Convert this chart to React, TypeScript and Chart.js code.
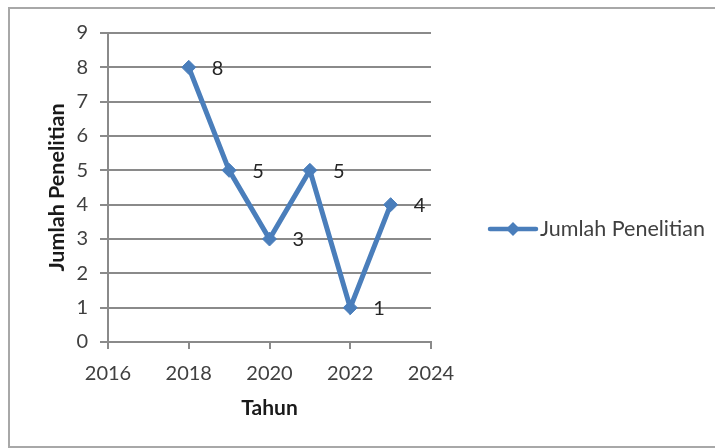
import React, { useEffect, useRef } from "react";
import { Chart, registerables } from "chart.js";

Chart.register(...registerables);

const seriesName = "Jumlah Penelitian";
const years = [2018, 2019, 2020, 2021, 2022, 2023];
const counts = [8, 5, 3, 5, 1, 4];
const xTickValues = [2016, 2018, 2020, 2022, 2024];
const yTickValues = [0, 1, 2, 3, 4, 5, 6, 7, 8, 9];
const xTitle = "Tahun";
const yTitle = "Jumlah Penelitian";

const LINE = "#4a7ebb";
const GRID = "#8a8a8a";
const TEXT = "#404040";
const FONT = "Lato, 'Open Sans', sans-serif";

export default function App() {
  const ref = useRef<HTMLCanvasElement | null>(null);

  useEffect(() => {
    document.body.style.margin = "0";
    const canvas = ref.current;
    if (!canvas) return;

    const labelPlugin = {
      id: "pointLabels",
      afterDatasetsDraw(chart: any) {
        const ctx = chart.ctx;
        const meta = chart.getDatasetMeta(0);
        ctx.save();
        ctx.font = `20px ${FONT}`;
        ctx.fillStyle = "#262626";
        ctx.textAlign = "left";
        ctx.textBaseline = "middle";
        meta.data.forEach((el: any, i: number) => {
          ctx.fillText(String(counts[i]), el.x + 23, el.y + 1);
        });
        ctx.restore();
      },
    };

    const legendPlugin = {
      id: "customLegend",
      afterDraw(chart: any) {
        const ctx = chart.ctx;
        const y = 229;
        ctx.save();
        ctx.strokeStyle = LINE;
        ctx.lineWidth = 4.5;
        ctx.lineCap = "round";
        ctx.beginPath();
        ctx.moveTo(490, y);
        ctx.lineTo(536, y);
        ctx.stroke();
        ctx.fillStyle = LINE;
        ctx.beginPath();
        ctx.moveTo(513 - 7, y);
        ctx.lineTo(513, y - 7);
        ctx.lineTo(513 + 7, y);
        ctx.lineTo(513, y + 7);
        ctx.closePath();
        ctx.fill();
        ctx.font = `21.5px ${FONT}`;
        ctx.fillStyle = TEXT;
        ctx.textAlign = "left";
        ctx.textBaseline = "middle";
        ctx.fillText(seriesName, 540, y);
        ctx.restore();
      },
    };

    const chart = new Chart(canvas, {
      type: "line",
      data: {
        datasets: [
          {
            label: seriesName,
            data: years.map((x, i) => ({ x, y: counts[i] })),
            borderColor: LINE,
            backgroundColor: LINE,
            borderWidth: 5,
            pointStyle: "rectRot",
            pointRadius: 7,
            pointBorderWidth: 1,
            pointBackgroundColor: LINE,
            pointBorderColor: LINE,
            tension: 0,
          },
        ],
      },
      options: {
        animation: false,
        responsive: true,
        maintainAspectRatio: false,
        layout: { padding: { left: 0, top: 33, right: 284, bottom: 0 } },
        plugins: {
          legend: { display: false },
          tooltip: { enabled: false },
        },
        scales: {
          x: {
            type: "linear",
            min: 2016,
            max: 2024,
            afterBuildTicks: (s: any) => {
              s.ticks = xTickValues.map((v) => ({ value: v }));
            },
            afterFit: (s: any) => {
              s.height = 106;
            },
            ticks: {
              color: TEXT,
              font: { family: FONT, size: 20 },
              padding: 13,
              maxRotation: 0,
              callback: (v: any) => String(v),
            },
            grid: {
              drawOnChartArea: false,
              drawTicks: true,
              tickLength: 7,
              color: GRID,
              lineWidth: 2,
            },
            border: { display: true, color: GRID, width: 2 },
            title: {
              display: true,
              text: xTitle,
              color: "#1a1a1a",
              font: { family: FONT, size: 21, weight: "bold" },
              padding: { top: 0, bottom: 27 },
            },
          },
          y: {
            min: 0,
            max: 9,
            afterBuildTicks: (s: any) => {
              s.ticks = yTickValues.map((v) => ({ value: v }));
            },
            afterFit: (s: any) => {
              s.width = 108;
            },
            ticks: {
              color: TEXT,
              font: { family: FONT, size: 20 },
              padding: 12,
            },
            grid: {
              drawOnChartArea: true,
              drawTicks: true,
              tickLength: 8,
              color: GRID,
              lineWidth: 2,
            },
            border: { display: true, color: GRID, width: 2 },
            title: {
              display: true,
              text: yTitle,
              color: "#1a1a1a",
              font: { family: FONT, size: 21.5, weight: "bold" },
              padding: { top: 44, bottom: 0 },
            },
          },
        },
      },
      plugins: [labelPlugin, legendPlugin],
    });

    return () => chart.destroy();
  }, []);

  return (
    <div style={{ position: "absolute", left: 0, top: 0, width: 715, height: 448, overflow: "hidden", background: "#fff" }}>
      <div
        style={{
          position: "absolute",
          left: 8,
          top: 7,
          width: 800,
          height: 437,
          border: "2px solid #a8a8a8",
        }}
      />
      <div style={{ position: "absolute", left: 0, top: 0, width: 715, height: 448 }}>
        <canvas ref={ref} />
      </div>
    </div>
  );
}
